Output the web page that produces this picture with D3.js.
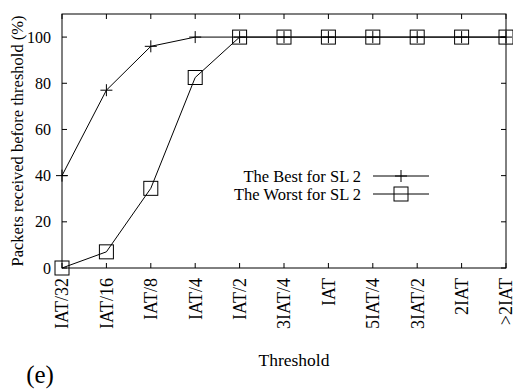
<!DOCTYPE html>
<html>
<head>
<meta charset="utf-8">
<script src="https://cdn.jsdelivr.net/npm/d3@7"></script>
<style>
  body { margin: 0; background: #fff; }
  text { font-family: "Liberation Serif", "DejaVu Serif", serif; fill: #000; }
</style>
</head>
<body>
<div id="chart"></div>
<script>
const categories = ["IAT/32", "IAT/16", "IAT/8", "IAT/4", "IAT/2", "3IAT/4", "IAT", "5IAT/4", "3IAT/2", "2IAT", ">2IAT"];
const bestValues = [40, 77, 96, 100, 100, 100, 100, 100, 100, 100, 100];
const worstValues = [0, 7, 34.5, 82.5, 100, 100, 100, 100, 100, 100, 100];
const yTicks = [0, 20, 40, 60, 80, 100];
const seriesNames = ["The Best for SL 2", "The Worst for SL 2"];

const width = 513, height = 389;
const margin = { left: 62, right: 7, top: 14, bottom: 121 };

const svg = d3.select("#chart").append("svg")
    .attr("width", width)
    .attr("height", height);

const x = d3.scalePoint()
    .domain(categories)
    .range([margin.left, width - margin.right]);

const y = d3.scaleLinear()
    .domain([0, 110])
    .range([height - margin.bottom, margin.top]);

const x0 = margin.left, x1 = width - margin.right;
const y0 = height - margin.bottom, y1 = margin.top;

// frame
svg.append("rect")
  .attr("x", x0).attr("y", y1)
  .attr("width", x1 - x0).attr("height", y0 - y1)
  .attr("fill", "none").attr("stroke", "#000").attr("stroke-width", 1);

// ticks, inward on all sides
const tickLen = 5;
svg.append("g").selectAll("line")
  .data(categories)
  .join("line")
    .attr("x1", d => x(d)).attr("x2", d => x(d))
    .attr("y1", y0).attr("y2", y0 - tickLen)
    .attr("stroke", "#000");
svg.append("g").selectAll("line")
  .data(categories)
  .join("line")
    .attr("x1", d => x(d)).attr("x2", d => x(d))
    .attr("y1", y1).attr("y2", y1 + tickLen)
    .attr("stroke", "#000");
svg.append("g").selectAll("line")
  .data(yTicks)
  .join("line")
    .attr("x1", x0).attr("x2", x0 + tickLen)
    .attr("y1", d => y(d)).attr("y2", d => y(d))
    .attr("stroke", "#000");
svg.append("g").selectAll("line")
  .data(yTicks)
  .join("line")
    .attr("x1", x1).attr("x2", x1 - tickLen)
    .attr("y1", d => y(d)).attr("y2", d => y(d))
    .attr("stroke", "#000");

// y tick labels
svg.append("g").selectAll("text")
  .data(yTicks)
  .join("text")
    .attr("x", x0 - 11)
    .attr("y", d => y(d))
    .attr("dy", "0.35em")
    .attr("text-anchor", "end")
    .style("font-size", "16px")
    .text(d => d);

// x tick labels, rotated
svg.append("g").selectAll("text")
  .data(categories)
  .join("text")
    .attr("transform", d => `translate(${x(d)},${y0 + 10}) rotate(-90)`)
    .attr("dy", "0.35em")
    .attr("text-anchor", "end")
    .style("font-size", "18px")
    .text(d => d);

// axis titles
svg.append("text")
  .attr("x", 294).attr("y", 366)
  .attr("text-anchor", "middle")
  .style("font-size", "17.5px")
  .text("Threshold");

svg.append("text")
  .attr("transform", `translate(17,${(y0 + y1) / 2}) rotate(-90)`)
  .attr("dy", "0.35em")
  .attr("text-anchor", "middle")
  .style("font-size", "16.5px")
  .text("Packets received before threshold (%)");

svg.append("text")
  .attr("x", 40).attr("y", 383)
  .attr("text-anchor", "middle")
  .style("font-size", "25px")
  .text("(e)");

// lines
const line = d3.line()
    .x((d, i) => x(categories[i]))
    .y(d => y(d));

svg.append("path").datum(bestValues)
  .attr("d", line).attr("fill", "none").attr("stroke", "#000").attr("stroke-width", 1);
svg.append("path").datum(worstValues)
  .attr("d", line).attr("fill", "none").attr("stroke", "#000").attr("stroke-width", 1);

const plusSize = 6, sqSize = 7;
function drawPlus(g, cx, cy) {
  g.append("line").attr("x1", cx - plusSize).attr("x2", cx + plusSize)
    .attr("y1", cy).attr("y2", cy).attr("stroke", "#000");
  g.append("line").attr("x1", cx).attr("x2", cx)
    .attr("y1", cy - plusSize).attr("y2", cy + plusSize).attr("stroke", "#000");
}
function drawSquare(g, cx, cy) {
  g.append("rect").attr("x", cx - sqSize).attr("y", cy - sqSize)
    .attr("width", sqSize * 2).attr("height", sqSize * 2)
    .attr("fill", "none").attr("stroke", "#000");
}

const marks = svg.append("g");
bestValues.forEach((v, i) => drawPlus(marks, x(categories[i]), y(v)));
worstValues.forEach((v, i) => drawSquare(marks, x(categories[i]), y(v)));

// legend
const legend = svg.append("g");
const legY = [176, 194];
seriesNames.forEach((name, i) => {
  legend.append("text")
    .attr("x", 361).attr("y", legY[i])
    .attr("dy", "0.35em")
    .attr("text-anchor", "end")
    .style("font-size", "16.5px")
    .text(name);
  legend.append("line")
    .attr("x1", 373).attr("x2", 429)
    .attr("y1", legY[i]).attr("y2", legY[i])
    .attr("stroke", "#000");
  if (i === 0) drawPlus(legend, 401, legY[i]);
  else drawSquare(legend, 401, legY[i]);
});
</script>
</body>
</html>
